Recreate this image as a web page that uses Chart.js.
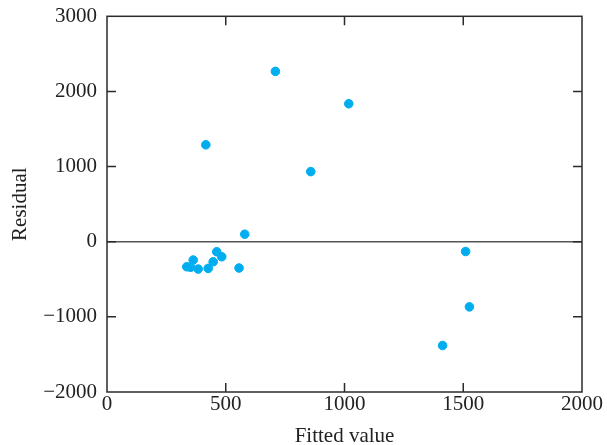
<!DOCTYPE html>
<html>
<head>
<meta charset="utf-8">
<script src="https://cdn.jsdelivr.net/npm/chart.js@4.4.0/dist/chart.umd.min.js"></script>
<style>
  html, body { margin: 0; padding: 0; background: #fff; }
  #wrap { width: 607px; height: 445px; position: relative; }
</style>
</head>
<body>
<div id="wrap"><canvas id="chart"></canvas></div>
<script>
// Данные: подогнанные значения и остатки
const fittedValues = [336, 352, 363, 384, 426, 447, 462, 483, 556, 580, 416, 709, 858, 1018, 1413, 1510, 1526];
const residuals = [-333, -340, -244, -364, -355, -267, -133, -200, -350, 100, 1290, 2267, 933, 1836, -1381, -130, -867];

// Метки осей
const xTicks = [0, 500, 1000, 1500, 2000];
const yTicks = [-2000, -1000, 0, 1000, 2000, 3000];

const points = fittedValues.map((x, i) => ({ x: x, y: residuals[i] }));

const serif = "'Liberation Serif', 'DejaVu Serif', serif";
const axisColor = '#2b2b2b';

// Рамка и внутренние засечки на всех четырёх сторонах
const frameTicks = {
    id: 'frameTicks',
    afterDraw(chart) {
        const ctx = chart.ctx;
        const a = chart.chartArea;
        const xs = chart.scales.x;
        const ys = chart.scales.y;
        const len = 9;
        ctx.save();
        ctx.strokeStyle = axisColor;
        ctx.lineWidth = 1.5;
        ctx.strokeRect(a.left, a.top, a.right - a.left, a.bottom - a.top);
        ctx.beginPath();
        xTicks.slice(1, -1).forEach(v => {
            const px = xs.getPixelForValue(v);
            ctx.moveTo(px, a.bottom); ctx.lineTo(px, a.bottom - len);
            ctx.moveTo(px, a.top); ctx.lineTo(px, a.top + len);
        });
        yTicks.slice(1, -1).forEach(v => {
            const py = ys.getPixelForValue(v);
            ctx.moveTo(a.left, py); ctx.lineTo(a.left + len, py);
            ctx.moveTo(a.right, py); ctx.lineTo(a.right - len, py);
        });
        ctx.stroke();
        ctx.restore();
    }
};

new Chart(document.getElementById('chart'), {
    type: 'scatter',
    data: {
        datasets: [{
            data: points,
            backgroundColor: '#00aeef',
            borderColor: '#00aeef',
            pointRadius: 4.3,
            pointHoverRadius: 4.3
        }]
    },
    options: {
        responsive: true,
        maintainAspectRatio: false,
        animation: false,
        layout: { padding: { top: 0, right: 25, left: 0, bottom: 0 } },
        plugins: {
            legend: { display: false },
            tooltip: { enabled: false }
        },
        scales: {
            x: {
                type: 'linear',
                min: 0,
                max: 2000,
                afterBuildTicks: s => { s.ticks = xTicks.map(v => ({ value: v })); },
                afterFit: s => { s.height = 53; },
                grid: { display: false, drawTicks: false },
                border: { display: false },
                ticks: {
                    color: '#222',
                    padding: 0,
                    font: { family: serif, size: 21 },
                    callback: v => String(v)
                },
                title: {
                    display: true,
                    text: 'Fitted value',
                    color: '#222',
                    padding: { top: 0, bottom: 0 },
                    font: { family: serif, size: 21, lineHeight: 0.8 }
                }
            },
            y: {
                type: 'linear',
                min: -2000,
                max: 3000,
                afterBuildTicks: s => { s.ticks = yTicks.map(v => ({ value: v })); },
                afterFit: s => { s.width = 107; },
                grid: {
                    drawTicks: false,
                    color: ctx => ctx.tick && ctx.tick.value === 0 ? '#555' : 'rgba(0,0,0,0)',
                    lineWidth: 1.5
                },
                border: { display: false },
                ticks: {
                    color: '#222',
                    padding: 10,
                    font: { family: serif, size: 21, lineHeight: 0.6 },
                    callback: v => v < 0 ? '\u2212' + Math.abs(v) : String(v)
                },
                title: {
                    display: true,
                    text: 'Residual',
                    color: '#222',
                    padding: { top: 8, bottom: 0 },
                    font: { family: serif, size: 21 }
                }
            }
        }
    },
    plugins: [frameTicks]
});
</script>
</body>
</html>
